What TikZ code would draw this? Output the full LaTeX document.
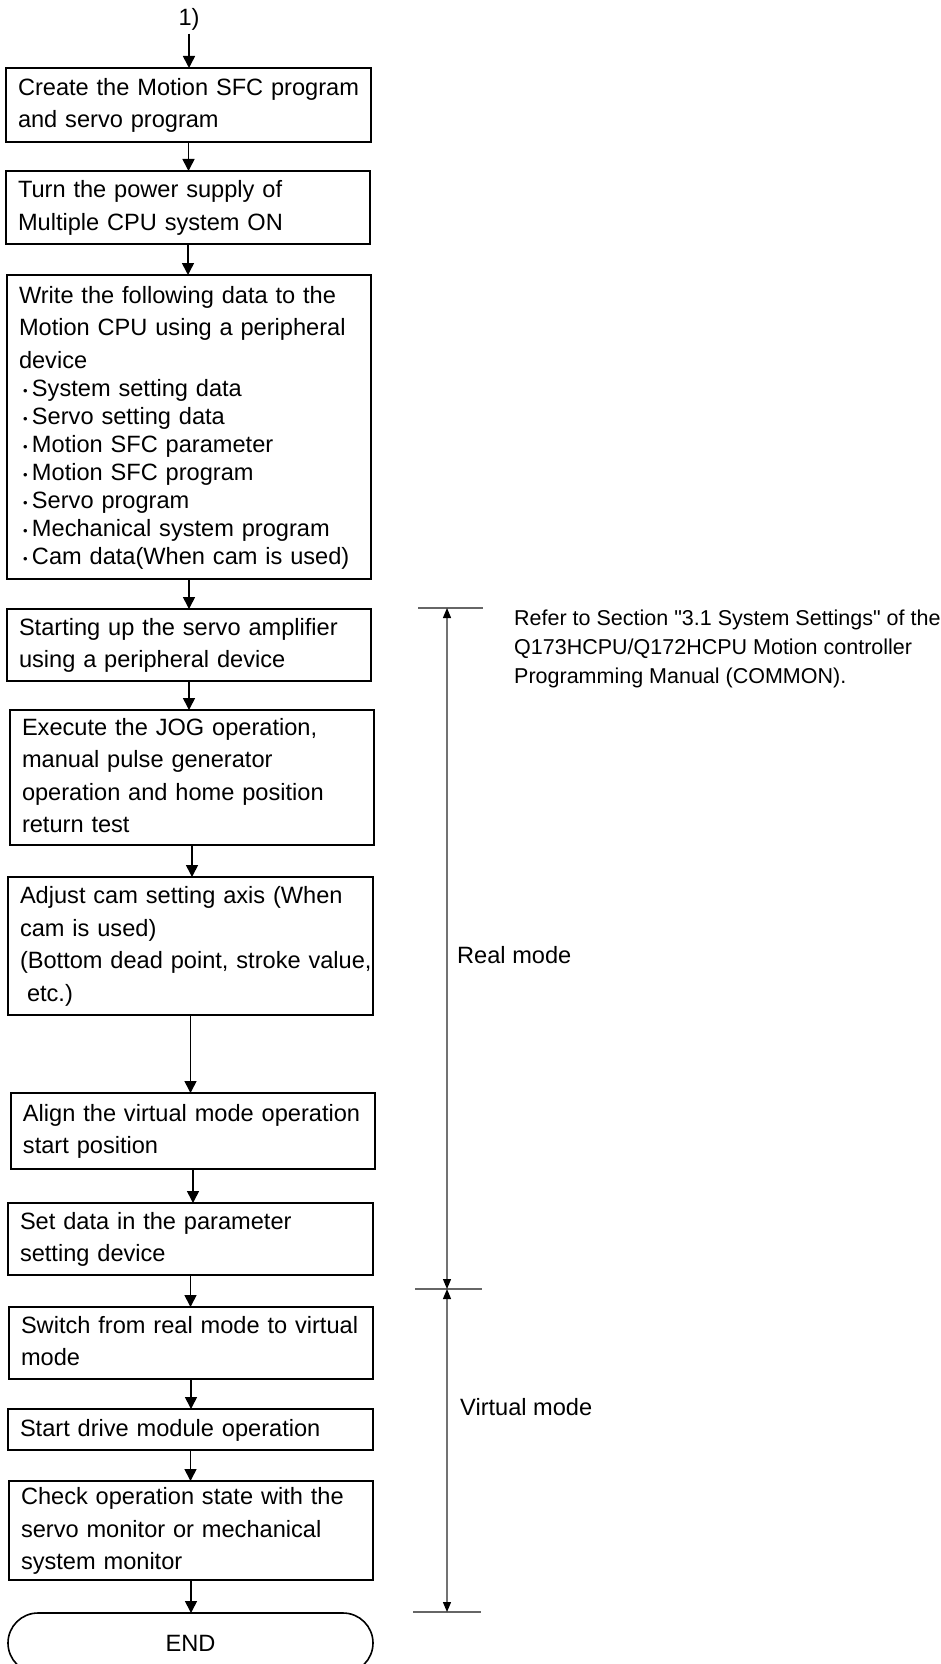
\documentclass[tikz,border=0pt]{standalone}
\usepackage{fontspec}
\setmainfont{Liberation Sans}
\usetikzlibrary{arrows.meta}
\newcommand{\bul}{\makebox[13pt][c]{\raisebox{1pt}{\fontsize{13}{13}\selectfont •}}}
\newcommand{\tl}[1]{\begin{tabular}[c]{@{}l@{}}#1\end{tabular}}
\tikzset{
  stepbox/.style={draw, line width=1.6pt, anchor=north west, align=left,
    inner xsep=12pt, inner ysep=0pt, outer sep=0pt,
    font=\fontsize{23.6}{32.5}\selectfont},
  endbox/.style={draw, line width=1.6pt, anchor=north west, rounded corners=30pt,
    inner sep=0pt, outer sep=0pt, font=\fontsize{23.6}{30}\selectfont},
  flow/.style={line width=1.6pt, -{Triangle[width=12pt,length=12pt]}},
  dimline/.style={line width=1.2pt, draw=black!55,
    {Triangle[width=8pt,length=10pt,color=black]}-{Triangle[width=8pt,length=10pt,color=black]}},
  tickline/.style={line width=1.4pt, draw=black!60},
  lbl/.style={anchor=base west, inner sep=0pt, font=\fontsize{23.6}{29}\selectfont},
  note/.style={anchor=north west, align=left, inner sep=0pt, font=\fontsize{21.5}{29}\selectfont}
}
\begin{document}
\begin{tikzpicture}[x=1pt,y=-1pt]
\useasboundingbox (0,0) rectangle (941,1664);
\clip (0,0) rectangle (941,1664);

\node[font=\fontsize{23.6}{30}\selectfont] (start) at (189,19) {1)};

\node[stepbox, minimum width=365pt, minimum height=74pt, text width=341pt] (b1) at (6,68)
  {\tl{Create the Motion SFC program\\and servo program}};
\node[stepbox, minimum width=364pt, minimum height=73pt, text width=340pt] (b2) at (6,171)
  {\tl{Turn the power supply of\\Multiple CPU system ON}};
\node[stepbox, minimum width=364pt, minimum height=304pt, text width=340pt] (b3) at (7,275)
  {\tl{Write the following data to the\\Motion CPU using a peripheral\\device\\[-4.5pt]
   \bul System setting data\\[-4.5pt]
   \bul Servo setting data\\[-4.5pt]
   \bul Motion SFC parameter\\[-4.5pt]
   \bul Motion SFC program\\[-4.5pt]
   \bul Servo program\\[-4.5pt]
   \bul Mechanical system program\\[-4.5pt]
   \bul Cam data(When cam is used)}};
\node[stepbox, minimum width=364pt, minimum height=72pt, text width=340pt] (b4) at (7,609)
  {\tl{Starting up the servo amplifier\\using a peripheral device}};
\node[stepbox, minimum width=364pt, minimum height=135pt, text width=340pt] (b5) at (10,710)
  {\tl{Execute the JOG operation,\\manual pulse generator\\operation and home position\\return test}};
\node[stepbox, minimum width=365pt, minimum height=138pt, text width=341pt] (b6) at (8,877)
  {\tl{Adjust cam setting axis (When\\cam is used)\\(Bottom dead point, stroke value,\\\hspace*{7pt}etc.)}};
\node[stepbox, minimum width=364pt, minimum height=76pt, text width=340pt] (b7) at (11,1093)
  {\tl{Align the virtual mode operation\\start position}};
\node[stepbox, minimum width=365pt, minimum height=72pt, text width=341pt] (b8) at (8,1203)
  {\tl{Set data in the parameter\\setting device}};
\node[stepbox, minimum width=364pt, minimum height=72pt, text width=340pt] (b9) at (9,1307)
  {\tl{Switch from real mode to virtual\\mode}};
\node[stepbox, minimum width=365pt, minimum height=41pt, text width=341pt] (b10) at (8,1409)
  {\tl{Start drive module operation}};
\node[stepbox, minimum width=364pt, minimum height=99pt, text width=340pt] (b11) at (9,1481)
  {\tl{Check operation state with the\\servo monitor or mechanical\\system monitor}};
\node[endbox, minimum width=365pt, minimum height=60pt] (end) at (8,1613) {END};

\draw[flow] (start.south) -- (start.south |- b1.north);
\foreach \a/\b in {b1/b2,b2/b3,b3/b4,b4/b5,b5/b6,b6/b7,b7/b8,b8/b9,b9/b10,b10/b11,b11/end}
  \draw[flow] (\a.south) -- (\a.south |- \b.north);

% dimension lines
\coordinate (dt) at (447,608);
\coordinate (dm) at (447,1289);
\coordinate (db) at (447,1612);
\coordinate (dtl) at (418,608);  \coordinate (dtr) at (483,608);
\coordinate (dml) at (415,1289); \coordinate (dmr) at (482,1289);
\coordinate (dbl) at (413,1612); \coordinate (dbr) at (481,1612);
\draw[tickline] (dtl) -- (dtr);
\draw[tickline] (dml) -- (dmr);
\draw[tickline] (dbl) -- (dbr);
\draw[dimline] (dt) -- (dm);
\draw[dimline] (dm) -- (db);

\node[lbl] (real) at (457,963) {Real mode};
\node[lbl] (virt) at (460,1415) {Virtual mode};
\node[note] (ref) at (514,610)
  {Refer to Section \textquotedbl 3.1 System Settings\textquotedbl{} of the\\Q173HCPU/Q172HCPU Motion controller\\Programming Manual (COMMON).};
\end{tikzpicture}
\end{document}
